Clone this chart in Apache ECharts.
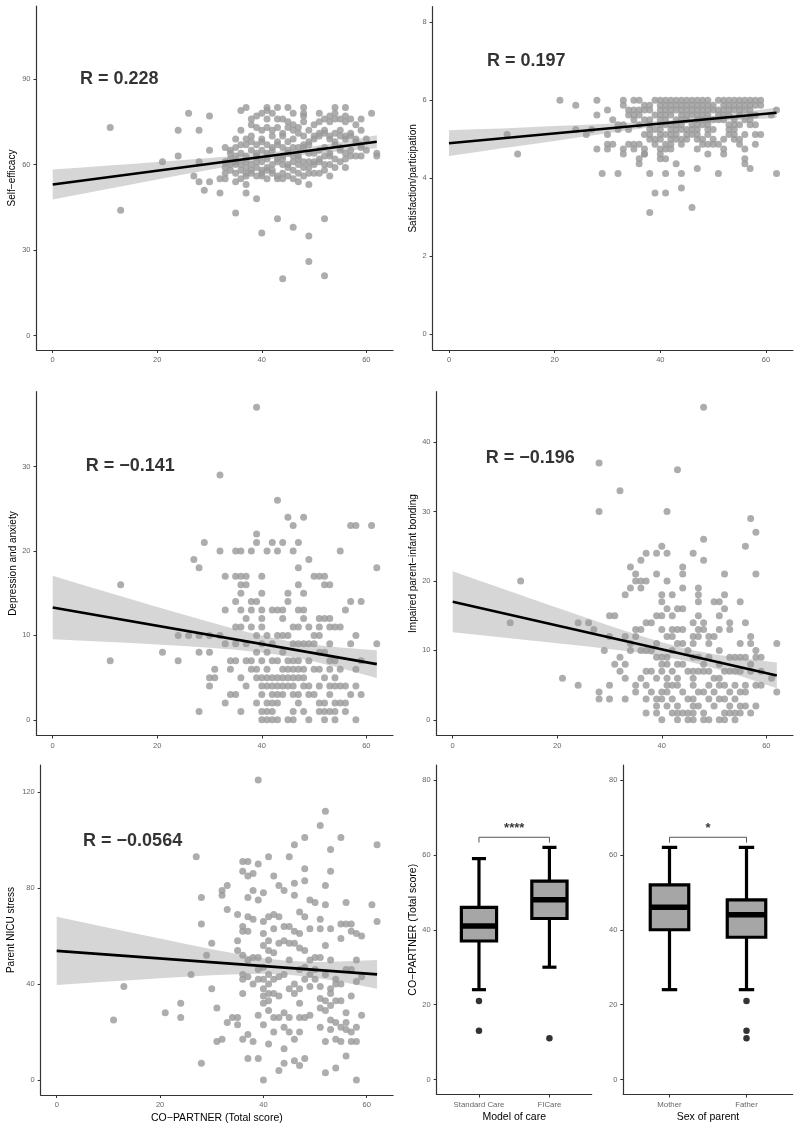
<!DOCTYPE html>
<html>
<head>
<meta charset="utf-8">
<script src="https://cdn.jsdelivr.net/npm/echarts@6/dist/echarts.min.js"></script>
<style>html,body{margin:0;padding:0;background:#fff;}#c{width:800px;height:1131px;}</style>
</head>
<body>
<div id="c"></div>
<script>
// ---------------- DATA ----------------
const xTicks = [0, 20, 40, 60];
const effTicks = [0, 30, 60, 90];
const satTicks = [0, 2, 4, 6, 8];
const depTicks = [0, 10, 20, 30];
const bondTicks = [0, 10, 20, 30, 40];
const stressTicks = [0, 40, 80, 120];
const boxTicks = [0, 20, 40, 60, 80];

const yTitles = ['Self\u2212efficacy', 'Satisfaction/participation', 'Depression and anxiety', 'Impaired parent\u2212infant bonding', 'Parent NICU stress'];
const xTitle = 'CO\u2212PARTNER (Total score)';
const rLabels = ['R = 0.228', 'R = 0.197', 'R = \u22120.141', 'R = \u22120.196', 'R = \u22120.0564'];
const rPos = [[5.2, 90], [7.2, 7], [6.3, 30], [6.3, 37.7], [5.1, 99.5]];

const selfEfficacyPts = [
[11,73],[13,44],[21,61],[24,72],[24,63],[26,78],[27,56],[28,72],[28,61],[28,54],[29,51],[30,77],[30,65],[30,54],[32,50],[32,55],[33,55],[35,43],[36,79],[37,80],[37,50],[37,53],[39,48],[40,36],[41,80],[43,80],[45,80],[48,80],[48,77],[43,41],[46,38],[49,35],[49,26],[44,20],[52,21],[52,41],[49,53],[54,80],[56,80],[61,78],[62,64],[62,63],[59,76],
[33,66],[33,61],[33,59],[33,57],
[34,64],[34,62],[34,60],[34,58],[34,65],
[35,69],[35,66],[35,63],[35,60],[35,57],[35,54],[35,61],
[36,67],[36,64],[36,60],[36,58],[36,55],[36,72],
[37,69],[37,67],[37,63],[37,59],[37,57],[37,56],[37,61],
[38,76],[38,74],[38,68],[38,65],[38,60],[38,58],[38,57],[38,70],
[39,77],[39,73],[39,67],[39,64],[39,61],[39,59],[39,56],[39,63],
[40,78],[40,72],[40,69],[40,68],[40,65],[40,61],[40,58],[40,57],[40,56],
[41,79],[41,76],[41,73],[41,67],[41,64],[41,62],[41,59],[41,58],[41,55],
[42,78],[42,72],[42,70],[42,66],[42,65],[42,60],[42,58],[42,57],
[43,76],[43,73],[43,68],[43,67],[43,62],[43,61],[43,56],[43,55],
[44,76],[44,71],[44,70],[44,66],[44,63],[44,62],[44,60],[44,57],[44,55],
[45,75],[45,73],[45,68],[45,65],[45,64],[45,60],[45,59],[45,56],
[46,78],[46,74],[46,72],[46,69],[46,66],[46,63],[46,61],[46,58],[46,55],
[47,73],[47,71],[47,66],[47,63],[47,62],[47,60],[47,57],[47,54],
[48,78],[48,75],[48,70],[48,67],[48,66],[48,61],[48,59],[48,56],
[49,72],[49,68],[49,67],[49,64],[49,61],[49,59],[49,57],
[50,74],[50,70],[50,69],[50,64],[50,61],[50,60],[50,57],
[51,78],[51,75],[51,71],[51,70],[51,65],[51,62],[51,61],[51,57],
[52,76],[52,72],[52,71],[52,66],[52,63],[52,60],[52,58],
[53,77],[53,75],[53,70],[53,69],[53,64],[53,63],[53,60],[53,56],
[54,78],[54,76],[54,71],[54,68],[54,67],[54,62],[54,59],
[55,76],[55,72],[55,70],[55,66],[55,65],[55,61],
[56,77],[56,75],[56,70],[56,69],[56,64],[56,62],[56,59],
[57,76],[57,71],[57,70],[57,65],[57,63],
[58,74],[58,69],[58,68],[58,63],
[59,72],[59,67],[59,66],[59,63],
[60,69],[60,65]
];

const satisfactionPts = [
[11,5.125],[13,4.625],[21,6],[24,5.875],[24,5.25],[26,5.125],[27,5.25],[28,6],[28,5.625],[28,4.75],[29,4.125],[30,5.75],[30,5.125],[30,4.875],[30,4.75],[31,4.875],[31,5.5],[32,4.125],[32,5.25],[32,5.375],[33,6],[33,5.875],[33,4.75],[33,4.625],[34,4.875],[34,5.75],[35,6],[35,4.75],[36,6],[36,4.5],[36,4.375],[37,4.625],[38,4.125],[38,3.125],[39,3.625],[41,3.625],[41,4.125],[44,4.125],[44,3.75],[43,4.375],[46,3.25],[47,4.25],[51,4.125],[62,4.125],[62,5.75],[61,5.625],[59,6],[59,5.875],[59,5.125],[58,5.125],[58,4.875],[57,4.25],[56,4.75],[56,4.5],[56,4.375],[56,5.125],[56,5.5],[54,5.375],[53,5.25],[52,4.625],[51,4.875],
[39,6],[40,6],[41,6],[42,6],[43,6],[44,6],[45,6],[46,6],[47,6],[48,6],[49,6],[51,6],[52,6],[53,6],[54,6],[55,6],[56,6],[57,6],[58,6],
[37,5.875],[38,5.875],[40,5.875],[41,5.875],[42,5.875],[43,5.875],[44,5.875],[45,5.875],[46,5.875],[47,5.875],[48,5.875],[49,5.875],[50,5.875],[52,5.875],[53,5.875],[54,5.875],[55,5.875],[56,5.875],[57,5.875],[58,5.875],
[35,5.75],[36,5.75],[37,5.75],[38,5.75],[40,5.75],[41,5.75],[42,5.75],[43,5.75],[44,5.75],[45,5.75],[46,5.75],[47,5.75],[48,5.75],[49,5.75],[50,5.75],[51,5.75],[52,5.75],[53,5.75],[54,5.75],[55,5.75],[56,5.75],[57,5.75],
[34,5.625],[35,5.625],[36,5.625],[39,5.625],[40,5.625],[41,5.625],[42,5.625],[44,5.625],[45,5.625],[46,5.625],[47,5.625],[48,5.625],[49,5.625],[51,5.625],[52,5.625],[53,5.625],[55,5.625],[57,5.625],[58,5.625],
[35,5.5],[37,5.5],[38,5.5],[40,5.5],[41,5.5],[43,5.5],[44,5.5],[45,5.5],[47,5.5],[48,5.5],[49,5.5],[50,5.5],[51,5.5],[52,5.5],[54,5.5],[57,5.5],
[33,5.375],[36,5.375],[38,5.375],[40,5.375],[41,5.375],[42,5.375],[43,5.375],[44,5.375],[46,5.375],[47,5.375],[48,5.375],[49,5.375],[53,5.375],[55,5.375],[57,5.375],[58,5.375],
[34,5.25],[38,5.25],[39,5.25],[40,5.25],[42,5.25],[43,5.25],[44,5.25],[45,5.25],[46,5.25],[47,5.25],[49,5.25],[50,5.25],[54,5.25],
[37,5.125],[38,5.125],[40,5.125],[41,5.125],[42,5.125],[43,5.125],[45,5.125],[46,5.125],[47,5.125],[49,5.125],[53,5.125],[54,5.125],
[38,5],[39,5],[40,5],[42,5],[43,5],[44,5],[45,5],[47,5],[48,5],[50,5],[52,5],[54,5],[55,5],
[35,4.875],[36,4.875],[39,4.875],[41,4.875],[42,4.875],[44,4.875],[48,4.875],[49,4.875],[50,4.875],[55,4.875],
[37,4.75],[40,4.75],[41,4.75],[42,4.75],[47,4.75],[52,4.75],
[37,4.625],[40,4.625],[49,4.625],
[40,4.5],[41,4.5]
];

const depressionPts = [
[11,7],[13,16],[21,8],[24,10],[24,7],[26,10],[27,19],[28,18],[28,10],[28,8],[28,1],[29,21],
[30,10],[30,8],[30,5],[30,4],[31,6],[31,5],[32,29],[32,20],[32,10],
[33,17],[33,13],[33,9],[33,2],[34,6],[34,7],[34,3],
[35,20],[35,17],[35,14],[35,11],[35,9],[35,7],[35,3],
[36,20],[36,17],[36,16],[36,15],[36,13],[36,11],[36,5],[36,1],
[37,17],[37,16],[37,12],[37,9],[37,7],[37,4],
[38,20],[38,14],[38,13],[38,11],[38,7],[38,6],
[39,37],[39,22],[39,21],[39,14],[39,10],[39,8],[39,6],[39,5],[39,2],
[40,17],[40,15],[40,13],[40,12],[40,11],[40,9],[40,7],[40,5],[40,4],[40,3],[40,1],[40,0],
[41,20],[41,10],[41,8],[41,6],[41,5],[41,4],[41,2],[41,1],[41,0],
[42,21],[42,13],[42,9],[42,7],[42,5],[42,4],[42,3],[42,2],[42,1],[42,0],
[43,26],[43,20],[43,13],[43,10],[43,7],[43,5],[43,4],[43,3],[43,2],[43,0],
[44,21],[44,13],[44,12],[44,10],[44,8],[44,6],[44,5],[44,4],[44,3],
[45,24],[45,15],[45,14],[45,10],[45,7],[45,6],[45,5],[45,4],[45,0],
[46,23],[46,20],[46,11],[46,9],[46,7],[46,6],[46,5],[46,4],[46,3],[46,1],[46,0],
[47,21],[47,18],[47,16],[47,13],[47,11],[47,9],[47,7],[47,6],[47,5],[47,3],[47,2],
[48,24],[48,15],[48,13],[48,12],[48,9],[48,6],[48,5],[48,4],[48,1],
[49,19],[49,11],[49,9],[49,7],[49,4],[49,3],[49,0],
[50,17],[50,10],[50,9],[50,6],[50,3],
[51,17],[51,12],[51,11],[51,10],[51,8],[51,6],[51,4],[51,2],[51,1],
[52,17],[52,16],[52,12],[52,8],[52,5],[52,2],[52,1],[52,0],
[53,16],[53,12],[53,11],[53,9],[53,7],[53,6],[53,4],[53,3],[53,1],
[54,11],[54,7],[54,5],[54,4],[54,2],[54,1],[54,0],
[55,20],[55,11],[55,6],[55,4],[55,2],
[56,13],[56,4],[56,2],[56,1],
[57,23],[57,14],[57,9],[57,3],
[58,23],[58,10],[58,6],[58,4],[58,0],
[59,14],[59,7],[59,3],
[61,23],[62,18],[62,9]
];

const bondingPts = [
[11,14],[13,20],[21,6],[24,14],[24,5],[26,14],[27,13],[28,37],[28,30],[28,4],[28,3],[29,10],
[30,15],[30,12],[30,5],[30,3],[31,15],[31,8],[32,33],[32,9],[32,7],
[33,18],[33,12],[33,8],[33,6],[33,3],[34,22],[34,19],[34,11],[34,10],
[35,21],[35,20],[35,13],[35,12],[35,5],[35,4],
[36,23],[36,20],[36,19],[36,13],[36,10],[36,6],
[37,20],[37,24],[37,14],[37,10],[37,7],[37,5],[37,3],[37,1],
[38,14],[38,10],[38,7],[38,4],
[39,24],[39,21],[39,15],[39,11],[39,9],[39,6],[39,3],[39,2],[39,1],
[40,25],[40,18],[40,17],[40,15],[40,13],[40,9],[40,8],[40,7],[40,4],[40,3],[40,0],
[41,30],[41,24],[41,20],[41,16],[41,12],[41,9],[41,8],[41,6],[41,5],[41,4],[41,2],
[42,18],[42,15],[42,13],[42,12],[42,10],[42,7],[42,5],[42,3],[42,1],
[43,36],[43,16],[43,13],[43,11],[43,8],[43,6],[43,5],[43,2],[43,1],[43,0],
[44,22],[44,21],[44,19],[44,16],[44,13],[44,11],[44,8],[44,4],[44,1],
[45,10],[45,7],[45,3],[45,1],[45,0],
[46,24],[46,14],[46,12],[46,11],[46,9],[46,7],[46,6],[46,5],[46,3],[46,2],[46,1],[46,0],
[47,19],[47,18],[47,17],[47,15],[47,13],[47,12],[47,9],[47,7],[47,4],[47,2],
[48,45],[48,26],[48,23],[48,14],[48,13],[48,8],[48,7],[48,4],[48,1],[48,0],
[49,12],[49,11],[49,9],[49,7],[49,5],[49,3],[49,0],
[50,17],[50,12],[50,6],[50,4],[50,2],
[51,17],[51,15],[51,13],[51,10],[51,8],[51,6],[51,5],[51,3],[51,0],
[52,21],[52,18],[52,16],[52,7],[52,5],[52,3],[52,1],[52,0],
[53,14],[53,13],[53,9],[53,7],[53,4],[53,2],[53,1],
[54,9],[54,7],[54,5],[54,3],[54,1],[54,0],
[55,17],[55,11],[55,9],[55,7],[55,4],[55,2],[55,1],
[56,25],[56,14],[56,9],[56,5],[56,4],[56,2],
[57,29],[57,12],[57,11],[57,8],[57,7],[57,1],
[58,27],[58,21],[58,10],[58,9],[58,5],[58,2],
[59,9],[59,7],[59,5],
[61,6],[62,11],[62,4]
];

const stressPts = [
[11,25],[13,39],[21,28],[24,32],[24,26],[26,44],[27,93],[28,76],[28,65],[28,7],[29,52],[30,38],[30,57],[31,30],[31,16],[32,17],[32,79],[32,77],[33,81],[33,71],[33,24],[34,26],
[35,69],[35,58],[35,54],[35,26],[35,23],
[36,91],[36,87],[36,64],[36,62],[36,52],[36,44],[36,42],[36,36],[36,17],
[37,91],[37,85],[37,76],[37,68],[37,62],[37,50],[37,43],[37,19],[37,9],
[38,86],[38,79],[38,67],[38,51],[38,40],[38,16],
[39,125],[39,90],[39,75],[39,51],[39,46],[39,42],[39,27],[39,9],
[40,78],[40,66],[40,61],[40,56],[40,47],[40,42],[40,38],[40,35],[40,32],[40,23],[40,0],
[41,93],[41,68],[41,58],[41,54],[41,50],[41,44],[41,40],[41,36],[41,33],[41,29],[41,15],
[42,85],[42,69],[42,63],[42,53],[42,42],[42,36],[42,26],[42,20],
[43,81],[43,68],[43,57],[43,43],[43,35],[43,26],[43,4],
[44,79],[44,64],[44,58],[44,44],[44,28],[44,22],[44,13],[44,7],
[45,93],[45,64],[45,57],[45,50],[45,38],[45,26],[45,20],
[46,98],[46,82],[46,77],[46,62],[46,57],[46,40],[46,36],[46,17],[46,8],
[47,70],[47,61],[47,55],[47,46],[47,38],[47,32],[47,26],[47,20],[47,6],
[48,101],[48,88],[48,83],[48,68],[48,54],[48,47],[48,42],[48,26],[48,9],
[49,75],[49,63],[49,50],[49,44],[49,39],[49,27],
[50,74],[50,51],[50,46],[50,42],
[51,106],[51,67],[51,63],[51,51],[51,39],[51,34],[51,30],[51,22],
[52,112],[52,81],[52,73],[52,56],[52,44],[52,33],[52,29],[52,16],[52,3],
[53,96],[53,87],[53,63],[53,50],[53,38],[53,36],[53,31],[53,25],[53,21],
[54,42],[54,40],[54,33],[54,24],[54,17],[54,5],
[55,101],[55,59],[55,65],[55,40],[55,33],[55,22],[55,16],
[56,74],[56,65],[56,46],[56,28],[56,24],[56,21],[56,10],
[57,65],[57,62],[57,46],[57,35],[57,20],[57,16],
[58,61],[58,50],[58,41],[58,22],[58,16],[58,0],
[59,60],[59,43],[59,27],
[61,73],[62,98],[62,66]
];

// regression fits (x from 0 to 62) and confidence band
const fitX = [0, 62];
const effFit = [53, 68];
const satFit = [4.9, 5.68];
const depFit = [13.3, 6.6];
const bondFit = [17, 6.4];
const stressFit = [53.8, 44];

const bandX = [0, 5, 10, 15, 20, 25, 30, 35, 40, 45, 50, 55, 62];
const effLo = [47.75, 49.5, 51.3, 53.0, 54.8, 56.5, 58.2, 59.9, 61.4, 62.75, 63.8, 64.7, 65.75];
const effHi = [58.25, 58.9, 59.6, 60.2, 60.9, 61.6, 62.3, 63.1, 64.0, 65.0, 66.4, 67.9, 70.25];
const satLo = [4.57, 4.67, 4.77, 4.86, 4.96, 5.06, 5.155, 5.25, 5.34, 5.41, 5.46, 5.50, 5.545];
const satHi = [5.23, 5.26, 5.28, 5.31, 5.34, 5.37, 5.40, 5.43, 5.47, 5.52, 5.60, 5.68, 5.815];
const depLo = [9.55, 9.4, 9.25, 9.09, 8.92, 8.74, 8.54, 8.30, 7.98, 7.53, 6.9, 6.13, 4.95];
const depHi = [17.05, 16.12, 15.19, 14.27, 13.36, 12.46, 11.58, 10.74, 9.98, 9.35, 8.9, 8.57, 8.25];
const bondLo = [12.6, 12.22, 11.82, 11.44, 11.03, 10.62, 10.19, 9.72, 9.16, 8.43, 7.45, 6.3, 4.55];
const bondHi = [21.4, 20.08, 18.76, 17.44, 16.13, 14.84, 13.55, 12.32, 11.16, 10.18, 9.45, 8.9, 8.25];
const stressLo = [39.55, 40.28, 40.99, 41.69, 42.37, 43.02, 43.6, 44.05, 44.22, 43.83, 42.64, 40.89, 38.0];
const stressHi = [68.05, 65.74, 63.45, 61.17, 58.91, 56.68, 54.52, 52.49, 50.74, 49.55, 49.16, 49.33, 50.0];

// box plots: [min, Q1, median, Q3, max]
const careCats = ['Standard Care', 'FICare'];
const careBoxes = [[24, 37, 41, 46, 59], [30, 43, 48, 53, 62]];
const careOutliers = [[1, 21], [1, 13], [2, 11]];
const sexCats = ['Mother', 'Father'];
const sexBoxes = [[24, 40, 46, 52, 62], [24, 38, 44, 48, 62]];
const sexOutliers = [[2, 21], [2, 13], [2, 11]];
const careSig = '****';
const sexSig = '*';
const bracketPts = [[1, 63.3], [1, 64.7], [2, 64.7], [2, 63.3]];
const sigPos = [[1.5, 67]];
const boxXTitles = ['Model of care', 'Sex of parent'];

// ---------------- CHART ----------------
const FONT = 'Liberation Sans';
const chart = echarts.init(document.getElementById('c'), null, {renderer: 'canvas'});

const grids = [
  {left: 36.5, top: 6, width: 356.5, height: 344},
  {left: 432.6, top: 6.7, width: 360.3, height: 343.3},
  {left: 36.5, top: 391.7, width: 356.5, height: 343.8},
  {left: 436.5, top: 391.7, width: 356.5, height: 343.8},
  {left: 40.7, top: 765, width: 352.4, height: 330},
  {left: 436.7, top: 765, width: 155, height: 329.5},
  {left: 623.3, top: 765, width: 169.4, height: 329.5}
];

function baseAxis(i, ticks) {
  return {
    type: 'value', gridIndex: i,
    axisLine: {show: true, onZero: false, lineStyle: {color: '#333', width: 1.2}},
    axisTick: {show: true, length: 3, customValues: ticks, lineStyle: {color: '#333', width: 1}},
    axisLabel: {customValues: ticks, color: '#666', fontSize: 7.5, fontFamily: FONT, margin: 6},
    splitLine: {show: false}
  };
}

const yRanges = [[-5.0, 115.6], [-0.4, 8.4], [-1.85, 38.85], [-2.25, 47.25], [-6.25, 131.25]];
const yTickSets = [effTicks, satTicks, depTicks, bondTicks, stressTicks];
const yGaps = [19, 14.5, 17.7, 17.7, 24.3];
const ptsSets = [selfEfficacyPts, satisfactionPts, depressionPts, bondingPts, stressPts];
const fits = [effFit, satFit, depFit, bondFit, stressFit];
const bands = [[effLo, effHi], [satLo, satHi], [depLo, depHi], [bondLo, bondHi], [stressLo, stressHi]];

const xAxes = [], yAxes = [], series = [];

function bandRenderer(lo, hi) {
  return function (params, api) {
    const pts = [];
    for (let k = 0; k < bandX.length; k++) pts.push(api.coord([bandX[k], hi[k]]));
    for (let k = bandX.length - 1; k >= 0; k--) pts.push(api.coord([bandX[k], lo[k]]));
    return {type: 'polygon', shape: {points: pts}, style: {fill: 'rgba(153,153,153,0.4)'}};
  };
}

for (let i = 0; i < 5; i++) {
  const xa = baseAxis(i, xTicks);
  xa.min = -3.1; xa.max = 65.1;
  if (i === 4) {
    xa.name = xTitle; xa.nameLocation = 'middle'; xa.nameGap = 17.4;
    xa.nameTextStyle = {fontSize: 10.5, color: '#000', fontFamily: FONT};
  }
  xAxes.push(xa);
  const ya = baseAxis(i, yTickSets[i]);
  ya.min = yRanges[i][0]; ya.max = yRanges[i][1];
  ya.name = yTitles[i]; ya.nameLocation = 'middle'; ya.nameGap = yGaps[i];
  ya.nameTextStyle = {fontSize: 10, color: '#000', fontFamily: FONT};
  yAxes.push(ya);

  series.push({type: 'scatter', xAxisIndex: i, yAxisIndex: i, data: ptsSets[i], symbolSize: 7,
    itemStyle: {color: '#999999'}, z: 2, silent: true, animation: false});
  series.push({type: 'custom', xAxisIndex: i, yAxisIndex: i, data: [[bandX[0], bands[i][0][0]]],
    renderItem: bandRenderer(bands[i][0], bands[i][1]), z: 3, silent: true, clip: false, animation: false});
  series.push({type: 'line', xAxisIndex: i, yAxisIndex: i, data: fitX.map((x, k) => [x, fits[i][k]]),
    symbol: 'none', lineStyle: {color: '#000', width: 2.6}, z: 4, silent: true, animation: false});
  series.push({type: 'scatter', xAxisIndex: i, yAxisIndex: i, data: [rPos[i]], symbolSize: 0,
    itemStyle: {color: 'rgba(0,0,0,0)'}, z: 5, silent: true, animation: false,
    label: {show: true, position: 'right', distance: 0, formatter: rLabels[i], fontSize: 18,
      fontWeight: 'bold', color: '#000', fontFamily: FONT}});
}

function boxRenderer(params, api) {
  const x = api.value(0);
  const p = [1, 2, 3, 4, 5].map(d => api.coord([x, api.value(d)]));
  const hw = api.size([0.25, 0])[0];
  const cw = api.size([0.1, 0])[0];
  const cx = p[0][0];
  const S = () => ({stroke: '#000', lineWidth: 3.2});
  return {type: 'group', children: [
    {type: 'line', shape: {x1: cx, y1: p[0][1], x2: cx, y2: p[1][1]}, style: S()},
    {type: 'line', shape: {x1: cx, y1: p[3][1], x2: cx, y2: p[4][1]}, style: S()},
    {type: 'line', shape: {x1: cx - cw, y1: p[0][1], x2: cx + cw, y2: p[0][1]}, style: S()},
    {type: 'line', shape: {x1: cx - cw, y1: p[4][1], x2: cx + cw, y2: p[4][1]}, style: S()},
    {type: 'rect', shape: {x: cx - hw, y: p[3][1], width: 2 * hw, height: p[1][1] - p[3][1]},
      style: {fill: '#a6a6a6', stroke: '#000', lineWidth: 3.2}},
    {type: 'line', shape: {x1: cx - hw, y1: p[2][1], x2: cx + hw, y2: p[2][1]}, style: {stroke: '#000', lineWidth: 5.5}}
  ]};
}

const boxSets = [[careCats, careBoxes, careOutliers, careSig], [sexCats, sexBoxes, sexOutliers, sexSig]];
for (let b = 0; b < 2; b++) {
  const i = 5 + b;
  const cats = boxSets[b][0];
  const xa = baseAxis(i, [1, 2]);
  xa.min = 0.4; xa.max = 2.6;
  xa.axisLabel.formatter = v => cats[Math.round(v) - 1];
  xa.axisLabel.fontSize = 7.8;
  xa.name = boxXTitles[b]; xa.nameLocation = 'middle'; xa.nameGap = 17.4;
  xa.nameTextStyle = {fontSize: 10.5, color: '#000', fontFamily: FONT};
  xAxes.push(xa);
  const ya = baseAxis(i, boxTicks);
  ya.min = -4; ya.max = 84;
  if (b === 0) {
    ya.name = xTitle; ya.nameLocation = 'middle'; ya.nameGap = 18;
    ya.nameTextStyle = {fontSize: 10.5, color: '#000', fontFamily: FONT};
  }
  yAxes.push(ya);
  series.push({type: 'custom', xAxisIndex: i, yAxisIndex: i,
    data: boxSets[b][1].map((s, k) => [k + 1].concat(s)),
    encode: {x: 0, y: [1, 2, 3, 4, 5]}, renderItem: boxRenderer, z: 3, silent: true, animation: false});
  series.push({type: 'scatter', xAxisIndex: i, yAxisIndex: i, data: boxSets[b][2], symbolSize: 6.5,
    itemStyle: {color: '#000'}, z: 4, silent: true, animation: false});
  series.push({type: 'line', xAxisIndex: i, yAxisIndex: i, data: bracketPts, symbol: 'none',
    lineStyle: {color: '#555', width: 1}, z: 4, silent: true, animation: false});
  series.push({type: 'scatter', xAxisIndex: i, yAxisIndex: i, data: sigPos, symbolSize: 0,
    itemStyle: {color: 'rgba(0,0,0,0)'}, z: 5, silent: true, animation: false,
    label: {show: true, position: 'inside', formatter: boxSets[b][3], fontSize: 13, fontWeight: 'bold',
      color: '#000', fontFamily: FONT}});
}

chart.setOption({
  animation: false,
  backgroundColor: '#fff',
  textStyle: {fontFamily: FONT},
  grid: grids,
  xAxis: xAxes,
  yAxis: yAxes,
  series: series
});
</script>
</body>
</html>
